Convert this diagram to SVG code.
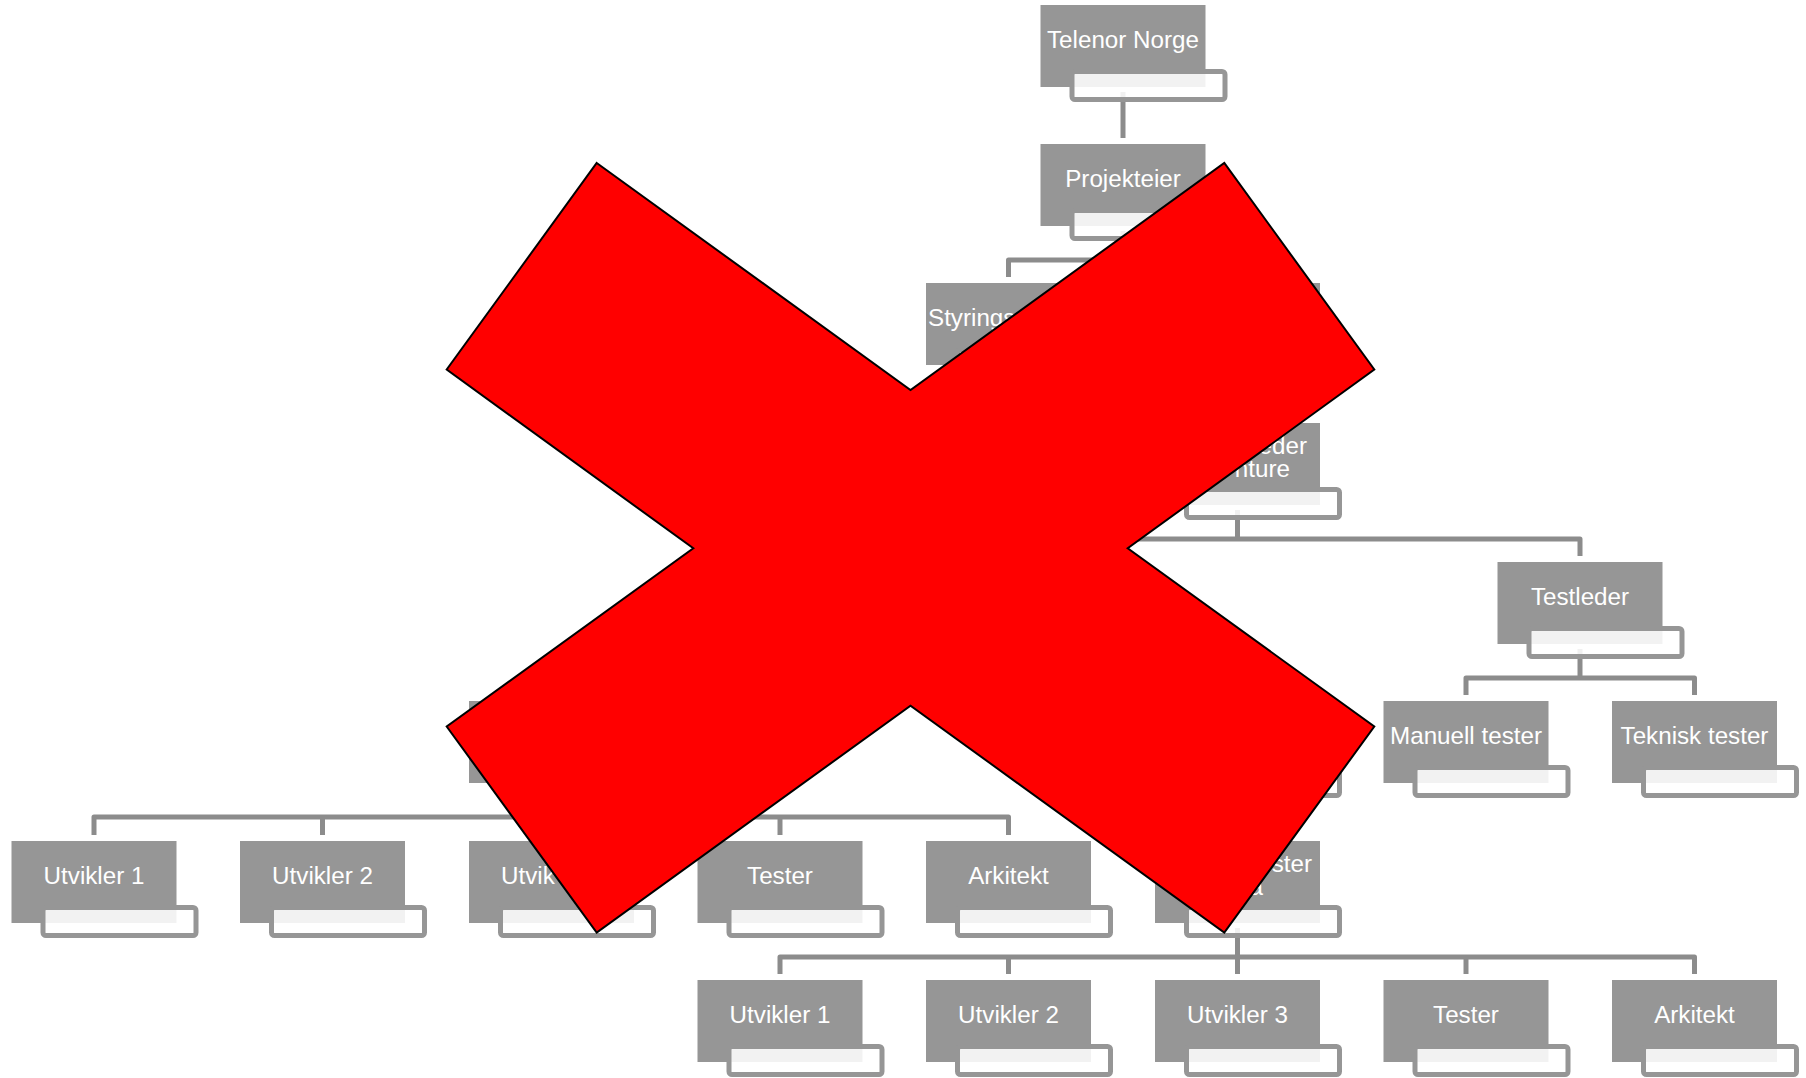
<svg xmlns="http://www.w3.org/2000/svg" width="1806" height="1078" viewBox="0 0 1806 1078">
<style>
.main{fill:#969696}
.sub{fill:#ffffff;fill-opacity:0.88;stroke:#969696;stroke-width:5}
.lbl{fill:#ffffff;font-family:"Liberation Sans",Arial,sans-serif;font-size:24.2px;text-anchor:middle}
.frag{fill:#ffffff;font-family:"Liberation Sans",Arial,sans-serif;font-size:24.2px}
.conn{fill:none;stroke:#8c8c8c;stroke-width:5;stroke-linejoin:round}
.xmark{fill:#ff0000;stroke:#000000;stroke-width:2;stroke-linejoin:miter}
</style>
<defs>
<g id="box">
<rect class="main" x="0" y="0" width="165" height="82"/>
<rect class="sub" x="31.5" y="66.5" width="153" height="28" rx="3"/>
</g>
</defs>
<rect width="1806" height="1078" fill="#ffffff"/>
<g id="connectors">
<path class="conn" d="M1123 92V138"/>
<path class="conn" d="M1123 231V260"/>
<path class="conn" d="M1008.5 277V260H1237.5V277"/>
<path class="conn" d="M1237.5 370V417"/>
<path class="conn" d="M1237.5 510V539"/>
<path class="conn" d="M1100 539H1580V556"/>
<path class="conn" d="M1580 649V678"/>
<path class="conn" d="M1466 695V678H1694.5V695"/>
<path class="conn" d="M551.5 788V817"/>
<path class="conn" d="M94 835V817H1008.5V835"/>
<path class="conn" d="M322.5 817V835"/>
<path class="conn" d="M551.5 817V835"/>
<path class="conn" d="M780 817V835"/>
<path class="conn" d="M1237.5 788V835"/>
<path class="conn" d="M1237.5 928V974"/>
<path class="conn" d="M780 974V957H1694.5V974"/>
<path class="conn" d="M1008.5 957V974"/>
<path class="conn" d="M1466 957V974"/>
</g>
<g id="n-telenor" transform="translate(1040.5,5)"><use href="#box"/><text class="lbl" x="82.5" y="43">Telenor Norge</text></g>
<g id="n-projekteier" transform="translate(1040.5,144)"><use href="#box"/><text class="lbl" x="82.5" y="43">Projekteier</text></g>
<g id="n-styrings" transform="translate(926,283)"><use href="#box"/><text class="frag" x="2" y="43">Styrings</text></g>
<g id="n-r2b" transform="translate(1155,283)"><use href="#box"/></g>
<g id="n-r3" transform="translate(1155,423)"><use href="#box"/><text class="frag" text-anchor="end" x="152" y="30.5">eder</text><text class="frag" text-anchor="end" x="135" y="54">nture</text></g>
<g id="n-testleder" transform="translate(1497.5,562)"><use href="#box"/><text class="lbl" x="82.5" y="43">Testleder</text></g>
<g id="n-r5a" transform="translate(469,701)"><use href="#box"/></g>
<g id="n-r5b" transform="translate(1155,701)"><use href="#box"/></g>
<g id="n-manuell" transform="translate(1383.5,701)"><use href="#box"/><text class="lbl" x="82.5" y="43">Manuell tester</text></g>
<g id="n-teknisk" transform="translate(1612,701)"><use href="#box"/><text class="lbl" x="82.5" y="43">Teknisk tester</text></g>
<g id="n-a-utv1" transform="translate(11.5,841)"><use href="#box"/><text class="lbl" x="82.5" y="43">Utvikler 1</text></g>
<g id="n-a-utv2" transform="translate(240,841)"><use href="#box"/><text class="lbl" x="82.5" y="43">Utvikler 2</text></g>
<g id="n-a-utv3" transform="translate(469,841)"><use href="#box"/><text class="frag" x="32" y="43">Utvik</text></g>
<g id="n-a-tester" transform="translate(697.5,841)"><use href="#box"/><text class="lbl" x="82.5" y="43">Tester</text></g>
<g id="n-a-arkitekt" transform="translate(926,841)"><use href="#box"/><text class="lbl" x="82.5" y="43">Arkitekt</text></g>
<g id="n-r6" transform="translate(1155,841)"><use href="#box"/><text class="frag" text-anchor="end" x="157" y="30.5">ster</text><text class="frag" text-anchor="end" x="108" y="54">a</text></g>
<g id="n-b-utv1" transform="translate(697.5,980)"><use href="#box"/><text class="lbl" x="82.5" y="43">Utvikler 1</text></g>
<g id="n-b-utv2" transform="translate(926,980)"><use href="#box"/><text class="lbl" x="82.5" y="43">Utvikler 2</text></g>
<g id="n-b-utv3" transform="translate(1155,980)"><use href="#box"/><text class="lbl" x="82.5" y="43">Utvikler 3</text></g>
<g id="n-b-tester" transform="translate(1383.5,980)"><use href="#box"/><text class="lbl" x="82.5" y="43">Tester</text></g>
<g id="n-b-arkitekt" transform="translate(1612,980)"><use href="#box"/><text class="lbl" x="82.5" y="43">Arkitekt</text></g>
<polygon id="red-x" class="xmark" points="596.7,163 910.5,390 1224.3,163 1374.3,369.5 1127.7,548.3 1374.3,726.5 1224.3,932.5 910.5,705.7 596.7,932.5 446.7,726.5 693.3,548.3 446.7,369.5"/>
</svg>
